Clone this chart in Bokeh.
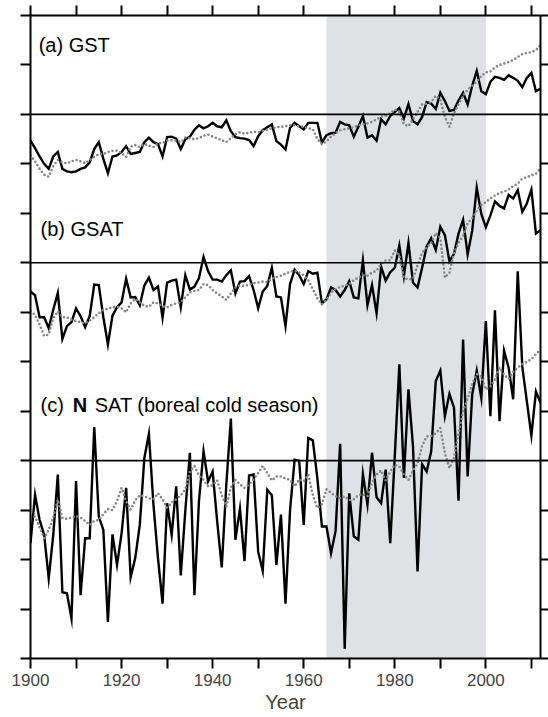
from bokeh.plotting import figure
from bokeh.models import Range1d, LinearAxis, FixedTicker, Span, BoxAnnotation, Label
from bokeh.embed import file_html
from bokeh.resources import INLINE

years = list(range(1900, 2013))

# anomalies in y-tick units (relative to each panel's zero line)
gst_obs = [-0.53, -0.68, -0.85, -1.00, -1.10, -0.85, -0.76, -1.10, -1.15, -1.17,
           -1.15, -1.10, -1.07, -0.97, -0.70, -0.56, -0.90, -1.19, -0.85, -0.83,
           -0.76, -0.64, -0.80, -0.78, -0.76, -0.56, -0.47, -0.56, -0.60, -0.85,
           -0.46, -0.45, -0.49, -0.70, -0.50, -0.45, -0.31, -0.22, -0.28, -0.24,
           -0.17, -0.24, -0.26, -0.12, -0.34, -0.46, -0.48, -0.49, -0.52, -0.64,
           -0.44, -0.32, -0.26, -0.20, -0.54, -0.61, -0.71, -0.27, -0.17, -0.24,
           -0.30, -0.17, -0.17, -0.17, -0.57, -0.42, -0.38, -0.37, -0.15, -0.20,
           -0.22, -0.45, -0.25, -0.03, -0.47, -0.42, -0.53, -0.10, -0.20, -0.03,
           0.05, 0.13, -0.08, 0.21, -0.14, -0.20, -0.05, 0.25, 0.22, 0.11,
           0.44, 0.27, 0.07, 0.09, 0.28, 0.44, 0.20, 0.58, 0.88, 0.47,
           0.41, 0.66, 0.76, 0.74, 0.70, 0.79, 0.74, 0.68, 0.55, 0.74,
           0.84, 0.47, 0.52]
gst_sim = [-0.83, -0.95, -1.10, -1.22, -1.26, -1.05, -0.92, -0.97, -0.99, -0.95,
           -0.92, -0.95, -0.99, -0.92, -0.86, -0.80, -0.80, -0.76, -0.74, -0.73,
           -0.78, -0.86, -0.65, -0.62, -0.66, -0.60, -0.63, -0.66, -0.58, -0.58,
           -0.53, -0.52, -0.53, -0.56, -0.47, -0.48, -0.50, -0.48, -0.43, -0.41,
           -0.45, -0.48, -0.52, -0.56, -0.48, -0.40, -0.36, -0.39, -0.37, -0.35,
           -0.36, -0.33, -0.31, -0.28, -0.26, -0.25, -0.24, -0.22, -0.22, -0.24,
           -0.25, -0.28, -0.30, -0.50, -0.60, -0.55, -0.45, -0.38, -0.32, -0.30,
           -0.28, -0.26, -0.22, -0.20, -0.18, -0.15, -0.10, -0.05, -0.03, 0.02,
           0.10, 0.05, -0.20, -0.24, -0.10, 0.05, 0.20, 0.22, 0.25, 0.38,
           0.30, -0.05, -0.25, 0.02, 0.20, 0.38, 0.50, 0.58, 0.66, 0.78,
           0.85, 0.87, 0.95, 1.00, 1.03, 1.06, 1.10, 1.16, 1.22, 1.24,
           1.26, 1.30, 1.40]
gsat_obs = [-0.58, -0.66, -1.10, -1.10, -1.32, -0.95, -0.61, -1.54, -1.28, -1.20,
            -0.92, -1.08, -1.30, -1.08, -0.44, -0.45, -1.10, -1.65, -1.07, -0.90,
            -0.80, -0.32, -0.70, -0.69, -0.86, -0.46, -0.30, -0.55, -0.48, -1.11,
            -0.40, -0.36, -0.34, -0.90, -0.25, -0.54, -0.48, -0.31, 0.12, -0.17,
            -0.34, -0.34, -0.38, -0.25, -0.15, -0.62, -0.38, -0.37, -0.27, -0.55,
            -0.92, -0.58, -0.47, -0.10, -0.68, -0.70, -1.28, -0.43, -0.14, -0.25,
            -0.43, -0.17, -0.22, -0.20, -0.82, -0.74, -0.50, -0.55, -0.68, -0.55,
            -0.37, -0.70, -0.72, 0.05, -0.86, -0.45, -1.02, -0.08, -0.36, -0.19,
            -0.10, 0.35, -0.27, 0.40, -0.40, -0.50, -0.10, 0.33, 0.50, 0.26,
            0.73, 0.56, 0.03, 0.18, 0.59, 0.87, 0.17, 0.65, 1.52, 0.99,
            0.72, 0.96, 1.24, 1.15, 1.10, 1.37, 1.30, 1.47, 1.03, 1.20,
            1.48, 0.59, 0.66]
gsat_sim = [-0.98, -1.05, -1.25, -1.48, -1.45, -1.12, -0.98, -1.10, -1.10, -1.15,
            -1.18, -1.20, -1.22, -1.17, -1.10, -1.02, -0.95, -0.93, -0.90, -0.89,
            -0.92, -1.00, -0.82, -0.73, -0.80, -0.87, -0.89, -0.80, -0.82, -0.88,
            -0.90, -0.85, -0.82, -0.80, -0.70, -0.60, -0.57, -0.55, -0.43, -0.45,
            -0.55, -0.62, -0.68, -0.75, -0.62, -0.50, -0.46, -0.47, -0.44, -0.41,
            -0.40, -0.38, -0.39, -0.32, -0.29, -0.26, -0.22, -0.18, -0.16, -0.20,
            -0.25, -0.35, -0.53, -0.72, -0.84, -0.75, -0.60, -0.53, -0.49, -0.46,
            -0.43, -0.35, -0.30, -0.25, -0.26, -0.20, -0.16, -0.02, 0.05, 0.05,
            0.25, 0.15, -0.30, -0.34, -0.32, -0.05, 0.20, 0.32, 0.39, 0.60,
            0.50, -0.30, -0.20, 0.20, 0.40, 0.55, 0.80, 0.90, 1.06, 1.17,
            1.23, 1.30, 1.36, 1.41, 1.44, 1.48, 1.55, 1.60, 1.70, 1.73,
            1.77, 1.80, 1.91]
nsat_obs = [-1.67, -0.69, -1.20, -1.50, -2.38, -1.50, -0.28, -2.66, -2.68, -3.19,
            -0.41, -2.72, -1.57, -1.57, 0.68, -1.13, -1.40, -3.26, -1.49, -2.11,
            -1.47, -0.55, -2.36, -1.97, -1.30, 0.05, 0.54, -0.89, -1.97, -2.89,
            -0.86, -1.50, -0.52, -2.32, -1.01, 0.16, -2.72, -0.81, 0.19, -0.42,
            -0.22, -1.23, -2.16, -0.49, 0.85, -1.60, -0.97, -2.03, -0.30, -0.28,
            -1.84, -2.23, -0.59, -0.70, -2.11, -1.09, -2.89, -1.00, 0.02, 0.00,
            -1.30, 0.46, 0.41, -0.36, -1.33, -1.33, -1.87, -1.42, 0.34, -3.80,
            -0.66, -1.53, -1.60, -0.27, -0.89, 0.16, -0.74, -0.86, -0.18, -1.67,
            0.09, 1.95, -0.35, 1.44, 0.29, -2.24, -0.07, -0.22, 0.19, 1.61,
            1.82, 0.90, 1.35, 1.07, -0.81, 2.45, -0.32, 1.34, 1.82, 1.27,
            2.82, 0.90, 3.04, 0.80, 2.22, 1.88, 1.24, 3.83, 1.90, 1.20,
            0.51, 1.40, 1.17]
nsat_sim = [-1.13, -1.13, -1.35, -1.57, -1.40, -1.15, -0.79, -1.16, -1.18, -1.15,
            -1.12, -1.15, -1.22, -1.30, -1.22, -1.20, -1.08, -0.98, -1.00, -0.82,
            -0.55, -0.82, -0.99, -0.80, -0.70, -0.72, -0.76, -0.78, -0.66, -0.78,
            -0.95, -0.85, -0.78, -0.70, -0.58, -0.22, -0.11, -0.30, -0.39, -0.52,
            -0.50, -0.40, -0.70, -0.93, -0.55, -0.39, -0.48, -0.55, -0.48, -0.38,
            -0.25, -0.11, -0.25, -0.40, -0.32, -0.32, -0.36, -0.39, -0.52, -0.38,
            -0.42, -0.28, -0.70, -0.96, -0.88, -0.58, -0.65, -0.72, -0.76, -0.72,
            -0.80, -0.78, -0.70, -0.68, -0.72, -0.45, -0.28, -0.20, -0.40, -0.22,
            -0.08, -0.12, -0.28, -0.39, -0.20, -0.05, 0.30, 0.49, 0.50, 0.55,
            0.66, 0.15, -0.15, 0.05, 0.55, 1.00, 1.25, 1.55, 1.75, 1.70,
            1.44, 1.50, 1.64, 1.88, 1.74, 1.65, 1.80, 1.88, 1.95, 2.00,
            2.05, 2.15, 2.25]

panel_offsets = [11, 8, 4]
x_ticks_major = [1900, 1920, 1940, 1960, 1980, 2000]
x_ticks_minor = [1910, 1930, 1950, 1970, 1990, 2010]
shade_start, shade_end = 1965, 2000

FONT = "Liberation Sans"

p = figure(width=548, height=717, x_range=Range1d(1900, 2012), y_range=Range1d(0, 13),
           output_backend="svg", toolbar_location=None,
           x_axis_location=None, y_axis_location=None,
           min_border_left=30, min_border_right=8, min_border_top=15, min_border_bottom=59)
p.grid.visible = False
p.outline_line_color = None
p.background_fill_color = "white"

p.add_layout(BoxAnnotation(left=shade_start, right=shade_end, fill_color="#e0e1e4",
                           fill_alpha=1.0, line_color=None, level="underlay"))

def style_axis(ax, tick_out, labels=False):
    ax.axis_line_width = 2
    ax.axis_line_color = "black"
    ax.major_tick_line_width = 2
    ax.minor_tick_line_width = 2
    ax.major_tick_in = 0
    ax.major_tick_out = tick_out
    ax.minor_tick_in = 0
    ax.minor_tick_out = tick_out
    if not labels:
        ax.major_label_text_color = None
        ax.major_label_text_font_size = "1px"
        ax.major_label_standoff = 0

bottom = LinearAxis(ticker=FixedTicker(ticks=x_ticks_major, minor_ticks=x_ticks_minor),
                    axis_label="Year")
style_axis(bottom, 10, labels=True)
bottom.major_label_text_font = FONT
bottom.major_label_text_font_size = "17px"
bottom.major_label_standoff = 5
bottom.axis_label_text_font = FONT
bottom.axis_label_text_font_size = "20px"
bottom.axis_label_text_font_style = "normal"
bottom.axis_label_standoff = 2
p.add_layout(bottom, "below")

top = LinearAxis(ticker=FixedTicker(ticks=x_ticks_major + x_ticks_minor))
style_axis(top, 10)
p.add_layout(top, "above")

yt = list(range(0, 14))
left = LinearAxis(ticker=FixedTicker(ticks=yt))
style_axis(left, 10)
p.add_layout(left, "left")

right = LinearAxis(ticker=FixedTicker(ticks=yt))
style_axis(right, 8)
p.add_layout(right, "right")

for off in panel_offsets:
    p.add_layout(Span(location=off, dimension="width", line_color="black", line_width=1.6))

series = [(gst_obs, gst_sim), (gsat_obs, gsat_sim), (nsat_obs, nsat_sim)]
for off, (obs, sim) in zip(panel_offsets, series):
    p.line(years, [off + v for v in obs], line_color="black", line_width=2.4, line_join="miter")
    p.line(years, [off + v for v in sim], line_color="#858585", line_width=2.6,
           line_dash="0 4", line_cap="round")

p.add_layout(Label(x=1901.8, y=12.41, text="(a) GST", text_font=FONT, text_font_size="20px",
                   text_color="black", text_baseline="alphabetic"))
p.add_layout(Label(x=1902.2, y=8.69, text="(b) GSAT", text_font=FONT, text_font_size="20px",
                   text_color="black", text_baseline="alphabetic"))
p.add_layout(Label(x=1902.2, y=5.135, text="(c)", text_font=FONT, text_font_size="20px",
                   text_color="black", text_baseline="alphabetic"))
p.add_layout(Label(x=1909.3, y=5.135, text="N", text_font=FONT, text_font_size="20px",
                   text_font_style="bold", text_color="black", text_baseline="alphabetic"))
p.add_layout(Label(x=1914.1, y=5.135, text="SAT (boreal cold season)", text_font=FONT,
                   text_font_size="20px", text_color="black", text_baseline="alphabetic"))

open("out.html", "w").write(file_html(p, INLINE))
